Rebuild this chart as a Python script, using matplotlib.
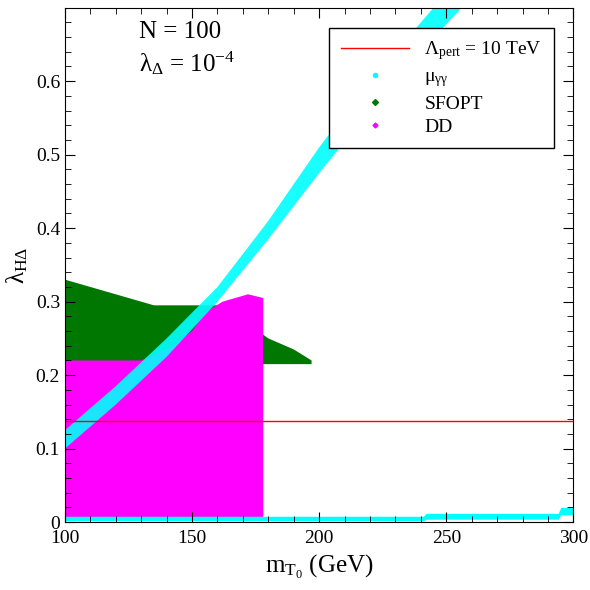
import numpy as np
import matplotlib
matplotlib.use("Agg")
import matplotlib.pyplot as plt
from matplotlib.lines import Line2D

plt.rcParams['font.family'] = ['Liberation Serif', 'DejaVu Serif']
plt.rcParams['mathtext.fontset'] = 'custom'
plt.rcParams['mathtext.rm'] = 'Liberation Serif'
plt.rcParams['mathtext.it'] = 'Liberation Serif'

# mu_gamma-gamma band edges
mu_up_x = [100, 120, 140, 160, 180, 200, 220, 245]
mu_up_y = [0.125, 0.185, 0.25, 0.32, 0.41, 0.51, 0.60, 0.70]
mu_lo_x = [256, 240, 220, 200, 180, 160, 140, 120, 100]
mu_lo_y = [0.70, 0.64, 0.56, 0.475, 0.385, 0.30, 0.225, 0.16, 0.10]
# mu band at small lambda
strip_x = [100, 241, 242, 294, 295, 300]
strip_lo = [0.002, 0.002, 0.004, 0.004, 0.01, 0.01]
strip_hi = [0.008, 0.008, 0.012, 0.012, 0.02, 0.02]

# SFOPT region outline
sf_x = [100, 100, 110, 125, 135, 165, 172, 180, 190, 197, 197]
sf_y = [0.215, 0.33, 0.32, 0.305, 0.295, 0.295, 0.27, 0.25, 0.235, 0.22, 0.215]

# DD region outline
dd_x = [100, 178, 178, 172, 162, 155, 150, 140, 130, 100]
dd_y = [0.005, 0.005, 0.305, 0.31, 0.30, 0.285, 0.26, 0.235, 0.22, 0.22]

pert_y = 0.137

fig, ax = plt.subplots(figsize=(5.9, 5.9), dpi=100)
fig.subplots_adjust(left=0.11, right=0.972, top=0.987, bottom=0.115)

ax.fill(sf_x, sf_y, color='#007700', lw=0)
ax.fill(dd_x, dd_y, color='#ff00ff', lw=0)
ax.fill(mu_up_x + mu_lo_x, mu_up_y + mu_lo_y, color='#00ffff', lw=0, alpha=0.9)
ax.fill_between(strip_x, strip_lo, strip_hi, color='#00ffff', lw=0)
ax.axhline(pert_y, color='red', lw=1)

ax.set_xlim(100, 300)
ax.set_ylim(0, 0.7)
ax.set_xticks([100, 150, 200, 250, 300])
ax.set_yticks([0, 0.1, 0.2, 0.3, 0.4, 0.5, 0.6])
ax.set_yticklabels(['0', '0.1', '0.2', '0.3', '0.4', '0.5', '0.6'])
ax.minorticks_on()
ax.tick_params(which='both', direction='in', top=True, right=True, labelsize=14)
ax.tick_params(which='major', length=7)
ax.tick_params(which='minor', length=4)
ax.tick_params(axis='x', pad=6)
ax.set_xlabel(r'm$_{\mathrm{T}_0}$ (GeV)', fontsize=18)
ax.set_ylabel(r'$\lambda_{\mathrm{H}\Delta}$', fontsize=18)

ax.text(0.145, 0.975, 'N = 100', transform=ax.transAxes, fontsize=18, va='top', ha='left')
ax.text(0.145, 0.92, r'$\lambda_\Delta$ = 10$^{-4}$', transform=ax.transAxes, fontsize=18, va='top', ha='left')

handles = [Line2D([], [], color='red', lw=1),
           Line2D([], [], color='#00ffff', marker='o', ls='', ms=3),
           Line2D([], [], color='#007700', marker='D', ls='', ms=3),
           Line2D([], [], color='#ff00ff', marker='D', ls='', ms=2.5)]
labels = [r'$\Lambda_{\mathrm{pert}}$ = 10 TeV', r'$\mu_{\gamma\gamma}$', 'SFOPT', 'DD']
ax.legend(handles, labels, loc='upper right', bbox_to_anchor=(0.98, 0.98), fontsize=14,
          fancybox=False, edgecolor='black', framealpha=1, handlelength=3.5,
          labelspacing=0.3, borderpad=0.6)

fig.savefig('out.png')
